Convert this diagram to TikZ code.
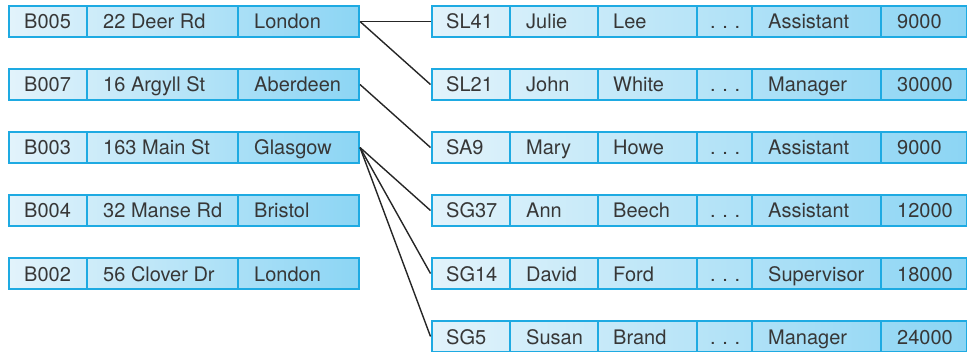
\documentclass[tikz,border=0pt]{standalone}
\usepackage{fontspec}
\setmainfont{TeX Gyre Heros}
\usepackage{tikz}
\usetikzlibrary{calc}
\definecolor{rowblue}{RGB}{30,170,226}
\definecolor{rowlight}{RGB}{226,243,251}
\definecolor{rowdark}{RGB}{140,213,244}
\definecolor{textgray}{RGB}{55,55,55}
\tikzset{
	branchbox/.style={draw=rowblue, line width=2pt, left color=rowlight, right color=rowdark, minimum width=350pt, minimum height=31pt, inner sep=0pt},
	staffbox/.style={draw=rowblue, line width=2pt, left color=rowlight, right color=rowdark, minimum width=535pt, minimum height=31pt, inner sep=0pt},
	celldiv/.style={draw=rowblue, line width=2pt},
	celltext/.style={anchor=base west, inner sep=0pt, text=textgray, font=\fontsize{20}{24}\selectfont},
	link/.style={draw=black!85, line width=1.4pt}
}
\def\branchrow(#1:#2)#3#4#5{%
	\node[branchbox] (#1) at (184,#2) {};
	\draw[celldiv] (87,#2-15.5) -- (87,#2+15.5);
	\draw[celldiv] (238,#2-15.5) -- (238,#2+15.5);
	\node[celltext] at (24,#2-7.5) {#3};
	\node[celltext] at (103,#2-7.5) {#4};
	\node[celltext] at (254,#2-7.5) {#5};
}
\def\staffrow(#1:#2)#3#4#5#6#7{%
	\node[staffbox] (#1) at (699,#2) {};
	\draw[celldiv] (510,#2-15.5) -- (510,#2+15.5);
	\draw[celldiv] (598,#2-15.5) -- (598,#2+15.5);
	\draw[celldiv] (697,#2-15.5) -- (697,#2+15.5);
	\draw[celldiv] (752,#2-15.5) -- (752,#2+15.5);
	\draw[celldiv] (881,#2-15.5) -- (881,#2+15.5);
	\node[celltext] at (446,#2-7.5) {#3};
	\node[celltext] at (526,#2-7.5) {#4};
	\node[celltext] at (613,#2-7.5) {#5};
	\node[celltext] at (710,#2-7.5) {.\,\,.\,\,.};
	\node[celltext] at (768,#2-7.5) {#6};
	\node[celltext] at (897,#2-7.5) {#7};
}
\begin{document}
\begin{tikzpicture}[x=1pt,y=1pt]
	\useasboundingbox (0,0) rectangle (967,351);
	\clip (0,0) rectangle (967,351);

	% branches
	\branchrow(b005:329.5){B005}{22 Deer Rd}{London}
	\branchrow(b007:266.5){B007}{16 Argyll St}{Aberdeen}
	\branchrow(b003:203.5){B003}{163 Main St}{Glasgow}
	\branchrow(b004:140.5){B004}{32 Manse Rd}{Bristol}
	\branchrow(b002:77.5){B002}{56 Clover Dr}{London}

	% staff
	\staffrow(sl41:329.5){SL41}{Julie}{Lee}{Assistant}{9000}
	\staffrow(sl21:266.5){SL21}{John}{White}{Manager}{30000}
	\staffrow(sa9:203.5){SA9}{Mary}{Howe}{Assistant}{9000}
	\staffrow(sg37:140.5){SG37}{Ann}{Beech}{Assistant}{12000}
	\staffrow(sg14:77.5){SG14}{David}{Ford}{Supervisor}{18000}
	\staffrow(sg5:14.5){SG5}{Susan}{Brand}{Manager}{24000}

	% links
	\draw[link] (b005.east) -- (sl41.west);
	\draw[link] (b005.east) -- (sl21.west);
	\draw[link] (b007.east) -- (sa9.west);
	\draw[link] (b003.east) -- (sg37.west);
	\draw[link] (b003.east) -- (sg14.west);
	\draw[link] (b003.east) -- (sg5.west);
\end{tikzpicture}
\end{document}
